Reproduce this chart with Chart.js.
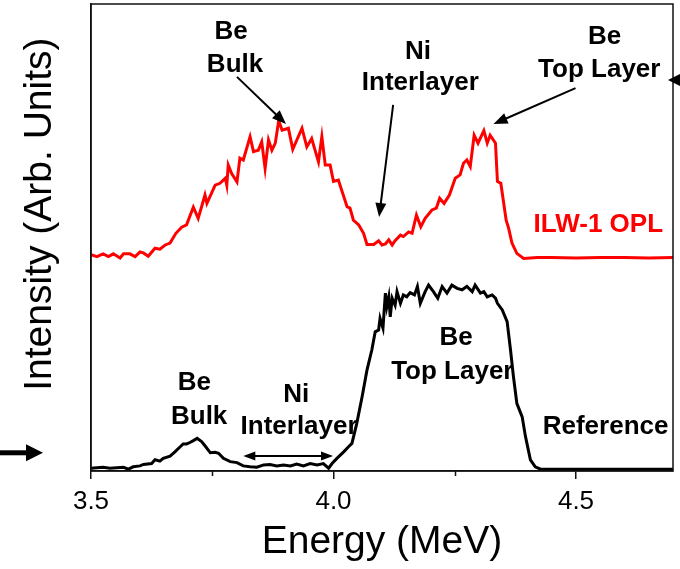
<!DOCTYPE html>
<html><head><meta charset="utf-8">
<script src="https://cdn.jsdelivr.net/npm/chart.js@4/dist/chart.umd.min.js"></script>
<style>html,body{margin:0;padding:0;background:#fff;overflow:hidden}</style>
</head><body>
<canvas id="c" width="680" height="569" style="width:680px;height:569px;display:block"></canvas>
<script>
// ---- data ----
const redEnergy = [3.500,3.512,3.525,3.536,3.546,3.560,3.567,3.580,3.591,3.601,3.608,3.618,3.632,3.642,3.653,3.663,3.675,3.687,3.697,3.711,3.721,3.735,3.739,3.756,3.766,3.777,3.780,3.783,3.790,3.801,3.807,3.814,3.828,3.835,3.845,3.852,3.859,3.866,3.873,3.880,3.887,3.894,3.907,3.916,3.935,3.945,3.955,3.969,3.976,3.983,3.993,4.000,4.010,4.028,4.034,4.041,4.052,4.062,4.069,4.083,4.093,4.100,4.107,4.114,4.121,4.127,4.138,4.144,4.155,4.162,4.171,4.180,4.189,4.203,4.212,4.219,4.228,4.239,4.251,4.261,4.268,4.275,4.282,4.290,4.298,4.310,4.317,4.323,4.334,4.338,4.345,4.356,4.361,4.368,4.378,4.392,4.420,4.450,4.500,4.550,4.600,4.650,4.700];
const redIntensity = [46.3,45.9,46.5,45.9,46.5,45.6,46.5,46.5,45.9,46.9,46.7,46.0,47.7,47.5,48.4,48.8,50.9,52.2,52.7,56.5,54.1,59.1,57.3,61.2,61.6,62.7,61.2,65.5,63.7,61.9,67.0,66.6,71.6,68.4,68.7,70.5,64.8,70.9,68.7,70.2,75.0,73.0,73.4,68.9,73.4,69.4,71.2,66.2,71.6,65.5,65.5,62.0,62.3,56.6,56.3,53.7,52.7,50.9,48.5,48.5,49.3,48.4,48.6,49.5,48.4,49.3,50.5,50.2,51.2,50.9,54.8,52.3,54.1,55.9,56.3,58.4,57.3,59.1,62.7,63.4,65.9,66.6,65.2,71.9,70.2,72.9,70.2,71.9,70.2,62.0,61.6,53.7,52.0,48.8,46.6,45.5,45.7,45.7,45.6,45.7,45.7,45.6,45.7];

const blackEnergy = [3.500,3.512,3.525,3.539,3.553,3.567,3.577,3.587,3.601,3.608,3.625,3.632,3.642,3.649,3.663,3.673,3.684,3.690,3.697,3.704,3.711,3.719,3.728,3.735,3.746,3.756,3.763,3.773,3.787,3.801,3.814,3.828,3.842,3.856,3.869,3.883,3.897,3.911,3.924,3.938,3.952,3.966,3.979,3.990,3.997,4.007,4.021,4.031,4.038,4.048,4.059,4.069,4.079,4.086,4.093,4.096,4.102,4.107,4.110,4.114,4.117,4.121,4.127,4.131,4.138,4.144,4.151,4.158,4.167,4.173,4.179,4.189,4.196,4.206,4.215,4.224,4.234,4.244,4.255,4.265,4.275,4.286,4.292,4.303,4.310,4.317,4.327,4.334,4.338,4.348,4.358,4.365,4.371,4.378,4.389,4.396,4.406,4.416,4.427,4.450,4.500,4.550,4.600,4.650,4.700];
const blackIntensity = [0.6,0.7,0.8,0.6,0.7,0.8,0.4,0.9,1.1,1.4,1.6,2.4,2.1,2.7,3.2,4.1,5.2,5.8,5.8,6.1,6.5,7.0,6.3,5.4,3.9,4.0,3.8,2.7,2.0,1.8,1.1,0.9,0.8,1.3,1.4,1.1,1.3,1.1,1.5,1.1,1.6,1.3,1.6,0.6,1.6,2.7,4.1,5.2,5.9,10.2,15.9,21.6,25.9,29.8,30.2,32.7,30.6,38.1,35.2,37.3,33.0,37.0,35.5,38.4,35.9,37.7,37.3,38.2,37.7,39.5,35.9,38.4,39.8,38.4,37.0,39.5,38.1,39.8,39.1,38.8,39.5,38.4,39.8,38.1,38.4,37.3,37.7,37.0,35.9,34.5,32.0,25.9,20.2,14.5,11.6,7.3,2.4,0.9,0.4,0.4,0.4,0.4,0.4,0.4,0.4];

const xMajorTicks = [3.5, 4.0, 4.5];
const xMinorTicks = [3.75, 4.25];
const xRange = [3.5, 4.7];
const yRange = [0, 100];
const yTitle = 'Intensity (Arb. Units)';

// ---- annotations (text + arrows, in data coordinates) ----
const FONT = "Arial, 'Liberation Sans', Helvetica, sans-serif";
const labels = [
  {t:'Be', x:3.789, y:94.0, c:'#000'}, {t:'Bulk', x:3.797, y:86.9, c:'#000'},
  {t:'Ni', x:4.174, y:89.7, c:'#000'}, {t:'Interlayer', x:4.179, y:83.1, c:'#000'},
  {t:'Be', x:4.559, y:92.9, c:'#000'}, {t:'Top Layer', x:4.548, y:85.9, c:'#000'},
  {t:'ILW-1 OPL', x:4.546, y:52.7, c:'#ff0000'},
  {t:'Be', x:3.713, y:18.8, c:'#000'}, {t:'Bulk', x:3.723, y:11.6, c:'#000'},
  {t:'Ni', x:3.923, y:16.3, c:'#000'}, {t:'Interlayer', x:3.929, y:9.4, c:'#000'},
  {t:'Be', x:4.253, y:28.5, c:'#000'}, {t:'Top Layer', x:4.245, y:21.2, c:'#000'},
  {t:'Reference', x:4.561, y:9.4, c:'#000'}
];
const arrows = [
  {x1:3.801, y1:84.4, x2:3.902, y2:74.3},
  {x1:4.123, y1:78.4, x2:4.094, y2:54.4},
  {x1:4.499, y1:82.0, x2:4.330, y2:74.3}
];
const doubleArrows = [{x1:3.814, x2:3.999, y:3.2}];

function arrowHead(ctx, x1, y1, x2, y2, len, half) {
  const a = Math.atan2(y2 - y1, x2 - x1);
  ctx.beginPath();
  ctx.moveTo(x2, y2);
  ctx.lineTo(x2 - len*Math.cos(a) + half*Math.sin(a), y2 - len*Math.sin(a) - half*Math.cos(a));
  ctx.lineTo(x2 - len*Math.cos(a) - half*Math.sin(a), y2 - len*Math.sin(a) + half*Math.cos(a));
  ctx.closePath();
  ctx.fill();
}
function arrowLine(ctx, x1, y1, x2, y2, lw, len, half) {
  const a = Math.atan2(y2 - y1, x2 - x1);
  ctx.lineWidth = lw;
  ctx.beginPath();
  ctx.moveTo(x1, y1);
  ctx.lineTo(x2 - (len*0.8)*Math.cos(a), y2 - (len*0.8)*Math.sin(a));
  ctx.stroke();
  arrowHead(ctx, x1, y1, x2, y2, len, half);
}

const annot = {
  id: 'annot',
  afterDatasetsDraw(chart) {
    const {ctx, chartArea: ca, scales: {x, y}} = chart;
    ctx.save();
    // frame
    ctx.strokeStyle = '#111';
    ctx.lineWidth = 1.5;
    ctx.strokeRect(ca.left, ca.top, ca.right - ca.left, ca.bottom - ca.top);
    // minor ticks
    ctx.beginPath();
    xMinorTicks.forEach(v => {
      const px = Math.round(x.getPixelForValue(v)) + 0.5;
      ctx.moveTo(px, ca.bottom); ctx.lineTo(px, ca.bottom + 5);
    });
    ctx.stroke();
    // y-axis title (placed slightly above the centre, as in the reference)
    ctx.save();
    ctx.translate(40, y.getPixelForValue(55));
    ctx.rotate(-Math.PI / 2);
    ctx.textAlign = 'center';
    ctx.textBaseline = 'middle';
    ctx.font = '39px ' + FONT;
    ctx.fillStyle = '#000';
    ctx.fillText(yTitle, 0, 0);
    ctx.restore();
    // labels
    ctx.textAlign = 'center';
    ctx.textBaseline = 'middle';
    ctx.font = 'bold 26px ' + FONT;
    labels.forEach(l => {
      ctx.fillStyle = l.c;
      ctx.fillText(l.t, x.getPixelForValue(l.x), y.getPixelForValue(l.y));
    });
    // arrows
    ctx.strokeStyle = '#000';
    ctx.fillStyle = '#000';
    arrows.forEach(a => {
      arrowLine(ctx, x.getPixelForValue(a.x1), y.getPixelForValue(a.y1),
                     x.getPixelForValue(a.x2), y.getPixelForValue(a.y2), 2, 14, 5.5);
    });
    doubleArrows.forEach(a => {
      const py = y.getPixelForValue(a.y);
      const p1 = x.getPixelForValue(a.x1), p2 = x.getPixelForValue(a.x2);
      ctx.lineWidth = 2;
      ctx.beginPath(); ctx.moveTo(p1 + 8, py); ctx.lineTo(p2 - 8, py); ctx.stroke();
      arrowHead(ctx, p2, py, p1, py, 12, 4.5);
      arrowHead(ctx, p1, py, p2, py, 12, 4.5);
    });
    // outside markers
    const yl = y.getPixelForValue(3.9);
    arrowLine(ctx, 0, yl, 43, yl, 5, 17, 8.5);
    const yr = y.getPixelForValue(83.7);
    arrowLine(ctx, 686, yr, 668, yr, 2, 12, 6);
    ctx.restore();
  }
};

Chart.defaults.font.family = FONT;
Chart.defaults.color = '#000';

new Chart(document.getElementById('c'), {
  type: 'line',
  data: {
    datasets: [
      {
        label: 'ILW-1 OPL',
        data: redEnergy.map((e, i) => ({x: e, y: redIntensity[i]})),
        borderColor: '#ff0000', borderWidth: 3, pointRadius: 0, tension: 0, fill: false
      },
      {
        label: 'Reference',
        data: blackEnergy.map((e, i) => ({x: e, y: blackIntensity[i]})),
        borderColor: '#000000', borderWidth: 3, pointRadius: 0, tension: 0, fill: false
      }
    ]
  },
  options: {
    responsive: false,
    animation: false,
    devicePixelRatio: 1,
    layout: {padding: {top: 4, right: 7, left: 0, bottom: 0}},
    plugins: {legend: {display: false}, tooltip: {enabled: false}},
    scales: {
      x: {
        type: 'linear', position: 'bottom', min: xRange[0], max: xRange[1],
        afterBuildTicks: s => { s.ticks = xMajorTicks.map(v => ({value: v})); },
        afterFit: s => { s.height = 98; },
        ticks: {
          autoSkip: false, maxRotation: 0, padding: 7, color: '#000',
          font: {size: 26, family: FONT},
          callback: v => Number(v).toFixed(1)
        },
        grid: {display: true, drawOnChartArea: false, drawTicks: true, tickLength: 8, color: '#111', lineWidth: 1.5},
        border: {display: true, color: '#111', width: 1.5},
        title: {display: true, text: 'Energy (MeV)', color: '#000', font: {size: 39, family: FONT}, padding: {top: 2, bottom: 3}}
      },
      y: {
        min: yRange[0], max: yRange[1],
        afterFit: s => { s.width = 91; },
        ticks: {display: false},
        grid: {display: false, drawTicks: false},
        border: {display: true, color: '#111', width: 1.5},
        title: {display: false}
      }
    }
  },
  plugins: [annot]
});
</script>
</body></html>
